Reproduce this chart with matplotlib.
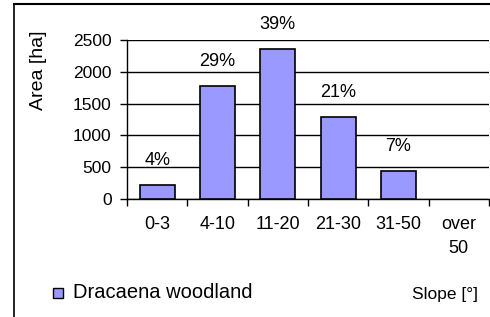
import matplotlib
matplotlib.use('Agg')
import matplotlib.pyplot as plt
from matplotlib.lines import Line2D
from matplotlib.patches import Rectangle

plt.rcParams['font.family'] = ['Liberation Sans', 'DejaVu Sans']

# 数据
categories = ['0-3', '4-10', '11-20', '21-30', '31-50', 'over\n50']
area = [220, 1780, 2360, 1290, 440, 0]
pct_labels = ['4%', '29%', '39%', '21%', '7%', '']

fig = plt.figure(figsize=(4.9, 3.17), dpi=100)

# 外框（只看得到左边和上边）
fig.add_artist(Line2D([14 / 490, 14 / 490], [0, 1 - 4 / 317], color='black', lw=1.2))
fig.add_artist(Line2D([14 / 490, 1], [1 - 4 / 317, 1 - 4 / 317], color='black', lw=1.5))

ax = fig.add_axes([127 / 490, 1 - 199 / 317, (489 - 127) / 490, (199 - 40) / 317])
x = list(range(len(categories)))
# 高度为0的柱子不画边框
lws = [1.2 if v > 0 else 0 for v in area]
ax.bar(x, area, width=0.58, color='#9999ff', edgecolor='black', linewidth=lws, zorder=3)

for xi, v, lab in zip(x, area, pct_labels):
    if lab:
        ax.annotate(lab, (xi, v), xytext=(0, 17.5), textcoords='offset points',
                    ha='center', va='center', fontsize=13)

ax.set_xlim(-0.5, 5.5)
ax.set_ylim(0, 2500)
ax.set_yticks([0, 500, 1000, 1500, 2000, 2500])
ax.tick_params(axis='y', labelsize=12.5, length=5, width=1, direction='out', pad=6)
ax.yaxis.grid(True, color='black', linewidth=1, zorder=0)
ax.set_axisbelow(True)

ax.set_xticks([i - 0.5 for i in range(len(categories) + 1)])
ax.set_xticklabels([])
ax.set_xticks(x, minor=True)
ax.set_xticklabels(categories, minor=True, fontsize=13, linespacing=1.6, va='top')
ax.tick_params(axis='x', which='major', length=5, width=1, direction='out')
ax.tick_params(axis='x', which='minor', length=0, pad=12)

for s in ['top', 'right']:
    ax.spines[s].set_visible(False)
ax.spines['left'].set_linewidth(1)
ax.spines['bottom'].set_linewidth(1)

fig.text(38 / 490, 1 - 70 / 317, 'Area [ha]', rotation=90, ha='center', va='center', fontsize=14)

# 图例
fig.add_artist(Rectangle((53 / 490, 1 - 298 / 317), 10 / 490, 10 / 317,
                         facecolor='#9999ff', edgecolor='black', lw=1, transform=fig.transFigure))
fig.text(73 / 490, 1 - 292 / 317, 'Dracaena woodland', ha='left', va='center', fontsize=14.5)

fig.text(478 / 490, 1 - 295 / 317, 'Slope [°]', ha='right', va='center', fontsize=12.5)

fig.savefig('out.png', dpi=100)
